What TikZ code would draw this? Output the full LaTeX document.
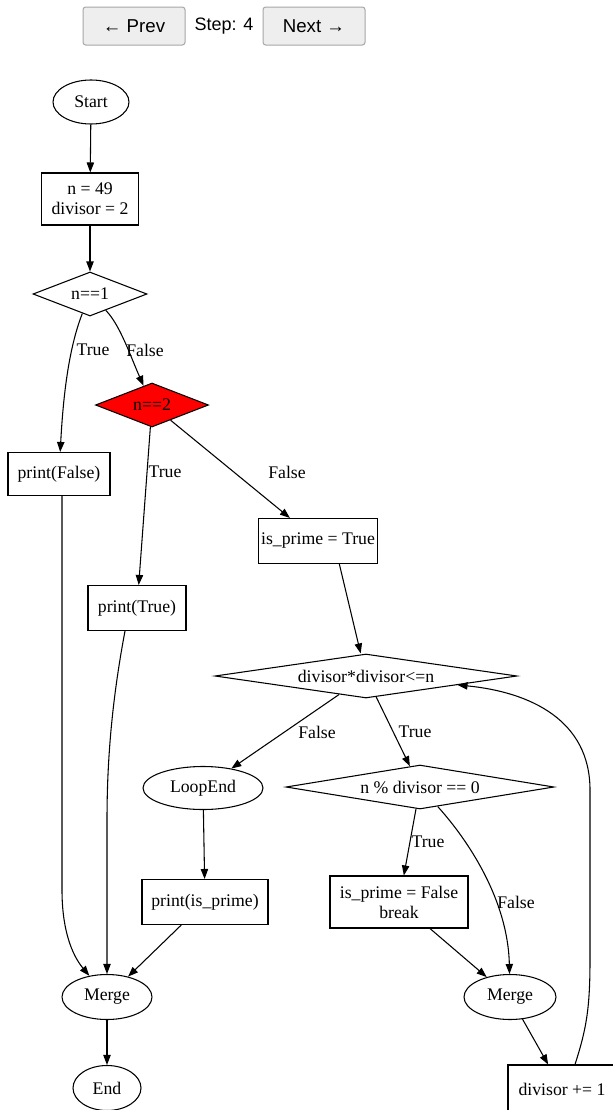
\documentclass[tikz,border=0pt]{standalone}
\usepackage{fontspec}
\setmainfont{Liberation Serif}
\newfontfamily\uifont{Liberation Sans}
\usetikzlibrary{shapes.geometric,arrows.meta}

\begin{document}
\begin{tikzpicture}[
  x=0.75pt, y=-0.75pt,
  font=\fontsize{13.3}{15}\selectfont,
  term/.style={draw, ellipse, inner sep=0pt, line width=0.8pt},
  proc/.style={draw, rectangle, inner sep=2pt, align=center, line width=0.8pt},
  cond/.style={draw, diamond, inner sep=0pt, aspect=2.6, line width=0.8pt},
  btn/.style={draw=gray!70, fill=gray!13, rounded corners=2pt, line width=0.75pt,
              font=\uifont\fontsize{14}{16}\selectfont, minimum width=76.5pt, minimum height=28.5pt},
  lbl/.style={inner sep=1pt},
  arr/.style={-{Triangle[length=7.5pt,width=5.5pt]}, line width=0.8pt},
]
\useasboundingbox (0,0) rectangle (613,1110);

% step controls
\node[btn] (prev) at (134,26) {← Prev};
\node[font=\uifont\fontsize{13.5}{16}\selectfont] (step) at (224,26) {Step: 4};
\node[btn] (next) at (314,26) {Next →};

% nodes
\node[term, minimum width=57pt, minimum height=33pt] (start) at (91,102) {Start};
\node[proc, minimum width=72.75pt, minimum height=39pt] (init) at (90,199) {n = 49\\divisor = 2};
\node[cond, minimum width=85.5pt, minimum height=33pt] (d1) at (90,294) {n==1};
\node[cond, fill=red, minimum width=84.75pt, minimum height=33pt] (d2) at (152,405) {n==2};
\node[proc, minimum width=76.5pt, minimum height=32.25pt] (pf) at (59,474) {print(False)};
\node[proc, minimum width=73.5pt, minimum height=33.75pt] (pt) at (137,608) {print(True)};
\node[proc, minimum width=79.5pt, minimum height=33.75pt] (ipt) at (318,541) {is\_prime = True};
\node[cond, aspect=6, minimum width=226.5pt, minimum height=33pt] (d3) at (366,676) {divisor*divisor<=n};
\node[term, minimum width=90pt, minimum height=32.25pt] (le) at (203,788) {LoopEnd};
\node[cond, aspect=6, minimum width=201pt, minimum height=33pt] (d4) at (420,787) {n \% divisor == 0};
\node[proc, minimum width=94.5pt, minimum height=33.75pt] (pi) at (205,902) {print(is\_prime)};
\node[proc, minimum width=103.5pt, minimum height=39pt] (ipf) at (399,902) {is\_prime = False\\break};
\node[term, minimum width=67.5pt, minimum height=33.75pt] (m1) at (107,997) {Merge};
\node[term, minimum width=51pt, minimum height=33.75pt] (end) at (107,1088) {End};
\node[term, minimum width=69pt, minimum height=33.75pt] (m2) at (510,997) {Merge};
\node[proc, minimum width=81pt, minimum height=36pt] (inc) at (562,1089) {divisor += 1};

% edges
\draw[arr] (start) -- (init);
\draw[arr] (init) -- (d1);
\draw[arr] (d1) .. controls (68,350) and (63,400) .. (pf);
\draw[arr] (d1) .. controls (120,325) and (130,355) .. (d2);
\draw[arr] (d2) -- (pt);
\draw[arr] (d2) -- (ipt);
\draw[arr] ([xshift=16pt]ipt.south) -- ([xshift=-4pt]d3.north);
\draw[arr] (d3) -- (le);
\draw[arr] (d3) -- (d4);
\draw[arr] (d4) -- (ipf);
\draw[arr] (d4) .. controls (468,840) and (508,900) .. (m2);
\draw[arr] (ipf) -- (m2);
\draw[arr] (m2) -- (inc);
\draw[arr] ([xshift=9.75pt]inc.north) .. controls (586,1030) and (590,1010) .. (590,960)
  -- (590,790) .. controls (590,720) and (530,692) .. (d3);
\draw[arr] (le) -- (pi);
\draw[arr] ([xshift=2.25pt]pf.south) -- (62,890) .. controls (62,930) and (72,955) .. (m1);
\draw[arr] ([xshift=-9pt]pt.south) .. controls (112,700) and (107,760) .. (107,820) -- (m1);
\draw[arr] (pi) -- (m1);
\draw[arr] (m1) -- (end);

% edge labels
\node[lbl] (lt1) at (93,350) {True};
\node[lbl] (lf1) at (145,350) {False};
\node[lbl] (lt2) at (165,472) {True};
\node[lbl] (lf2) at (287,472) {False};
\node[lbl] (lf3) at (317,732) {False};
\node[lbl] (lt3) at (415,732) {True};
\node[lbl] (lt4) at (428,842) {True};
\node[lbl] (lf4) at (516,902) {False};
\end{tikzpicture}
\end{document}
